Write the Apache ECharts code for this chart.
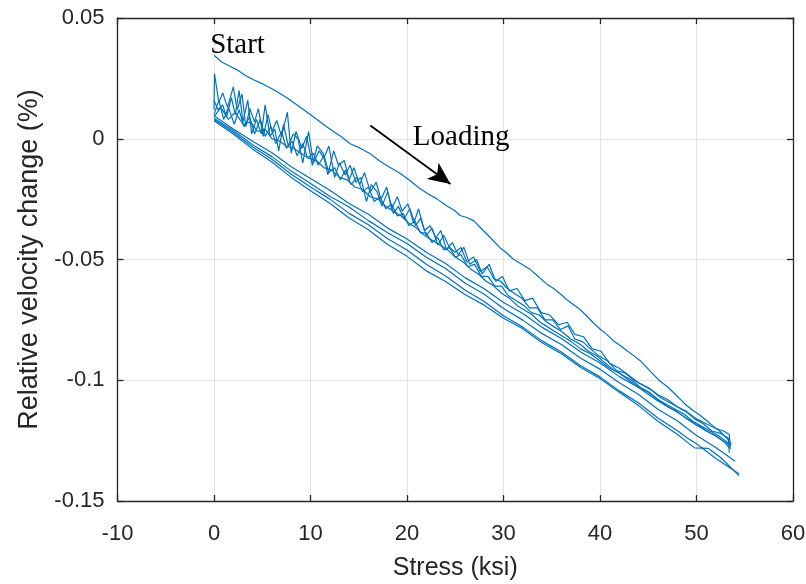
<!DOCTYPE html>
<html>
<head>
<meta charset="utf-8">
<script src="https://cdn.jsdelivr.net/npm/echarts@6/dist/echarts.min.js"></script>
<style>
  html, body { margin: 0; padding: 0; background: #fff; }
  #chart { width: 806px; height: 584px; }
</style>
</head>
<body>
<div id="chart"></div>
<script>
// Axis ranges and tick values
const xTicks = [-10, 0, 10, 20, 30, 40, 50, 60];
const yTicks = [-0.15, -0.1, -0.05, 0, 0.05];

// First loading (upper trace), [stress ksi, relative velocity change %]
const firstLoading = [
  [0, 0.0346], [0.8, 0.0318], [1.6, 0.0301], [2.5, 0.0283], [3.3, 0.0261], [4.2, 0.0242],
  [5.1, 0.0226], [6.0, 0.0207], [6.8, 0.0188], [7.7, 0.0166], [8.5, 0.0143], [9.4, 0.0117],
  [10.4, 0.0088], [11.5, 0.0055], [12.3, 0.0032], [13.2, 0.0008], [14.1, -0.0021],
  [15.1, -0.0038], [16.2, -0.0062], [17.2, -0.0093], [18.2, -0.0118], [19.2, -0.0141],
  [20.3, -0.0173], [21.3, -0.0205], [22.2, -0.0229], [23.1, -0.0249], [24.1, -0.0277],
  [24.9, -0.0296], [25.5, -0.0318], [26.2, -0.0326], [26.9, -0.0339], [27.9, -0.0380],
  [28.6, -0.0408], [29.6, -0.0450], [30.3, -0.0472], [31.0, -0.0498], [31.9, -0.0520],
  [32.7, -0.0539], [33.4, -0.0563], [34.5, -0.0602], [35.2, -0.0620], [35.9, -0.0643],
  [36.6, -0.0668], [37.2, -0.0685], [37.9, -0.0706], [38.6, -0.0733], [39.3, -0.0762],
  [40.0, -0.0788], [40.7, -0.0810], [41.4, -0.0837], [42.1, -0.0856], [42.8, -0.0878],
  [43.5, -0.0898], [44.2, -0.0920], [45.2, -0.0962], [46.2, -0.1003], [47.0, -0.1027],
  [47.9, -0.1062], [48.8, -0.1098], [49.7, -0.1127], [50.4, -0.1146], [51.1, -0.1169],
  [51.8, -0.1192], [52.4, -0.1210], [53.1, -0.1238], [53.6, -0.1262]
];

// Repeated loadings with scattered readings
const cycleNoisyA = [
  [0, 0.012], [0.05, 0.027], [0.5, 0.015], [0.9, 0.019], [1.4, 0.013], [2.0, 0.0215],
  [2.4, 0.012], [2.9, 0.0185], [3.3, 0.005], [3.7, 0.0125], [4.2, 0.007], [4.6, 0.0125],
  [5.1, 0.001], [5.6, 0.010], [6.0, 0.003], [6.5, 0.0076], [7.0, 0.001], [7.6, 0.011],
  [8.0, -0.006], [8.5, 0.003], [9.1, -0.004], [9.6, 0.001], [10.2, -0.011], [10.7, -0.003],
  [11.3, -0.006], [11.8, -0.015], [12.4, -0.005], [12.9, -0.011], [13.5, -0.009],
  [14.0, -0.017], [14.5, -0.012], [15.1, -0.019], [15.6, -0.014], [16.2, -0.022],
  [16.8, -0.018], [17.3, -0.025], [17.9, -0.020], [18.4, -0.029], [19.0, -0.024],
  [19.5, -0.030], [20.1, -0.027], [20.7, -0.035], [21.2, -0.029], [21.8, -0.038],
  [22.4, -0.036], [23.0, -0.041], [23.5, -0.038], [24.1, -0.046], [24.7, -0.043],
  [25.3, -0.048], [25.9, -0.045], [26.5, -0.052], [27.2, -0.050], [27.8, -0.056],
  [28.5, -0.052], [29.2, -0.059], [29.9, -0.057], [30.6, -0.063], [31.4, -0.062],
  [32.2, -0.067], [33.0, -0.066], [33.9, -0.072], [34.8, -0.073], [35.7, -0.077],
  [36.6, -0.076], [37.4, -0.081], [38.3, -0.082], [39.2, -0.087], [40.1, -0.088],
  [41.0, -0.093], [42.0, -0.095], [43.0, -0.098], [44.0, -0.101], [45.0, -0.103],
  [46.0, -0.106], [47.0, -0.108], [48.0, -0.111], [49.0, -0.113], [50.0, -0.116],
  [51.0, -0.118], [52.0, -0.120], [52.8, -0.121], [53.4, -0.1225], [53.5, -0.1285]
];

const cycleNoisyB = [
  [0, 0.016], [0.4, 0.012], [0.9, 0.014], [1.3, 0.009], [1.8, 0.017], [2.2, 0.010],
  [2.6, 0.020], [3.0, 0.007], [3.5, 0.016], [3.9, 0.002], [4.4, 0.008], [4.9, 0.002],
  [5.3, 0.014], [5.8, 0.001], [6.3, 0.004], [6.7, -0.005], [7.2, 0.006], [7.7, -0.003],
  [8.2, 0.002], [8.7, 0.000], [9.2, -0.010], [9.8, 0.003], [10.3, -0.010], [10.9, -0.005],
  [11.4, -0.008], [11.9, -0.003], [12.5, -0.016], [13.0, -0.010], [13.6, -0.015],
  [14.1, -0.011], [14.7, -0.018], [15.2, -0.016], [15.8, -0.026], [16.3, -0.019],
  [16.9, -0.022], [17.4, -0.028], [18.0, -0.022], [18.6, -0.031], [19.1, -0.028],
  [19.7, -0.033], [20.3, -0.029], [20.9, -0.036], [21.4, -0.033], [22.0, -0.040],
  [22.6, -0.037], [23.2, -0.044], [23.8, -0.040], [24.4, -0.045], [25.0, -0.047],
  [25.6, -0.045], [26.2, -0.051], [26.9, -0.049], [27.6, -0.055], [28.3, -0.053],
  [29.0, -0.058], [29.7, -0.059], [30.4, -0.062], [31.1, -0.064], [31.9, -0.066],
  [32.7, -0.070], [33.5, -0.070], [34.3, -0.075], [35.1, -0.075], [35.9, -0.079],
  [36.7, -0.0775], [37.4, -0.083], [38.2, -0.084], [39.0, -0.087], [39.9, -0.090],
  [40.8, -0.092], [41.7, -0.096], [42.6, -0.097], [43.5, -0.100], [44.4, -0.102],
  [45.3, -0.104], [46.2, -0.107], [47.1, -0.109], [48.0, -0.111], [48.9, -0.113],
  [49.8, -0.116], [50.7, -0.118], [51.6, -0.121], [52.5, -0.122], [53.3, -0.124],
  [53.4, -0.130]
];

const cycleNoisyC = [
  [0, 0.010], [0.5, 0.016], [1.0, 0.008], [1.5, 0.013], [2.1, 0.006], [2.6, 0.012],
  [3.1, 0.005], [3.7, 0.009], [4.2, 0.002], [4.8, 0.008], [5.3, 0.001], [5.9, 0.005],
  [6.4, -0.002], [7.0, 0.003], [7.5, -0.004], [8.1, -0.001], [8.6, -0.007], [9.2, -0.002],
  [9.7, -0.008], [10.3, -0.006], [10.8, -0.011], [11.4, -0.007], [11.9, -0.014],
  [12.5, -0.012], [13.1, -0.017], [13.6, -0.013], [14.2, -0.019], [14.8, -0.016],
  [15.4, -0.022], [16.0, -0.020], [16.6, -0.026], [17.2, -0.024], [17.8, -0.029],
  [18.4, -0.027], [19.0, -0.032], [19.6, -0.031], [20.2, -0.036], [20.8, -0.034],
  [21.4, -0.039], [22.0, -0.039], [22.6, -0.043], [23.2, -0.041], [23.8, -0.046],
  [24.4, -0.045], [25.0, -0.049], [25.6, -0.048], [26.3, -0.053], [27.0, -0.052],
  [27.7, -0.057], [28.4, -0.057], [29.1, -0.061], [29.8, -0.061], [30.5, -0.065],
  [31.3, -0.067], [32.1, -0.069], [32.9, -0.072], [33.7, -0.073], [34.5, -0.076],
  [35.3, -0.078], [36.1, -0.080], [37.0, -0.083], [37.9, -0.085], [38.8, -0.088],
  [39.7, -0.090], [40.6, -0.093], [41.5, -0.096], [42.4, -0.098], [43.3, -0.100],
  [44.2, -0.103], [45.1, -0.105], [46.0, -0.108], [46.9, -0.110], [47.8, -0.112],
  [48.7, -0.114], [49.6, -0.117], [50.5, -0.119], [51.4, -0.121], [52.3, -0.123],
  [53.0, -0.125], [53.6, -0.127]
];

const cycleNoisyD = [
  [0, 0.009], [0.7, 0.013], [1.5, 0.008], [2.2, 0.011], [3.0, 0.006], [3.8, 0.007],
  [4.5, 0.003], [5.3, 0.004], [6.0, 0.000], [6.8, -0.001], [7.5, -0.003], [8.3, -0.004],
  [9.0, -0.006], [9.8, -0.008], [10.6, -0.009], [11.4, -0.012], [12.2, -0.013],
  [13.0, -0.016], [13.8, -0.017], [14.6, -0.020], [15.4, -0.021], [16.2, -0.024],
  [17.0, -0.025], [17.8, -0.028], [18.6, -0.030], [19.4, -0.032], [20.2, -0.035],
  [21.0, -0.037], [21.8, -0.040], [22.6, -0.042], [23.4, -0.044], [24.2, -0.046],
  [25.0, -0.049], [25.8, -0.051], [26.6, -0.054], [27.4, -0.056], [28.2, -0.059],
  [29.0, -0.061], [29.8, -0.064], [30.6, -0.066], [31.4, -0.069], [32.2, -0.071],
  [33.0, -0.073], [33.8, -0.076], [34.6, -0.078], [35.4, -0.080], [36.2, -0.082],
  [37.0, -0.084], [38.0, -0.087], [39.0, -0.089], [40.0, -0.092], [41.0, -0.095],
  [42.0, -0.097], [43.0, -0.100], [44.0, -0.103], [45.0, -0.105], [46.0, -0.108],
  [47.0, -0.111], [48.0, -0.113], [49.0, -0.116], [50.0, -0.118], [51.0, -0.121],
  [52.0, -0.123], [53.0, -0.126], [53.4, -0.128]
];

// Repeated loadings with steadier readings
const cycleSmoothA = [
  [0, 0.0095], [2, 0.0040], [4, -0.0010], [6, -0.0058], [8, -0.0116], [10, -0.0165],
  [12, -0.0213], [14, -0.0268], [16, -0.0313], [18, -0.0370], [20, -0.0415], [22, -0.0470],
  [24, -0.0517], [26, -0.0575], [28, -0.0621], [30, -0.0678], [32, -0.0724], [34, -0.0781],
  [36, -0.0827], [38, -0.0883], [40, -0.0929], [42, -0.0985], [44, -0.1030], [46, -0.1086],
  [48, -0.1131], [50, -0.1186], [52, -0.1231], [53.5, -0.1270]
];

const cycleSmoothB = [
  [0, 0.0085], [2, 0.0034], [4, -0.0025], [6, -0.0074], [8, -0.0134], [10, -0.0185],
  [12, -0.0238], [14, -0.0283], [16, -0.0339], [18, -0.0389], [20, -0.0434], [22, -0.0491],
  [24, -0.0537], [26, -0.0597], [28, -0.0644], [30, -0.0703], [32, -0.0751], [34, -0.0807],
  [36, -0.0852], [38, -0.0909], [40, -0.0954], [42, -0.1010], [44, -0.1059], [46, -0.1120],
  [48, -0.1168], [50, -0.1229], [52, -0.1278], [54, -0.1335]
];

const cycleSmoothC = [
  [0, 0.0080], [2, 0.0027], [4, -0.0034], [6, -0.0085], [8, -0.0147], [10, -0.0200],
  [12, -0.0250], [14, -0.0309], [16, -0.0356], [18, -0.0414], [20, -0.0461], [22, -0.0520],
  [24, -0.0568], [26, -0.0626], [28, -0.0674], [30, -0.0733], [32, -0.0780], [34, -0.0837],
  [36, -0.0883], [38, -0.0940], [40, -0.0986], [42, -0.1044], [44, -0.1094], [46, -0.1156],
  [48, -0.1208], [49, -0.1238], [50, -0.1263], [52, -0.1324], [54.4, -0.1387]
];

const cycleSmoothD = [
  [0, 0.0075], [2, 0.0020], [4, -0.0043], [6, -0.0096], [8, -0.0160], [10, -0.0215],
  [12, -0.0267], [14, -0.0328], [16, -0.0377], [18, -0.0438], [20, -0.0487], [22, -0.0547],
  [24, -0.0591], [26, -0.0645], [28, -0.0689], [30, -0.0743], [32, -0.0787], [34, -0.0845],
  [36, -0.0890], [38, -0.0947], [40, -0.0993], [42, -0.1050], [44, -0.1105], [46, -0.1170],
  [48, -0.1224], [49.8, -0.1280], [51.2, -0.1282], [52.5, -0.1320], [54.4, -0.1395]
];

// Loading direction arrow, from tail to head
const arrowTail = [16.2, 0.0055];
const arrowHead = [24.5, -0.0187];

// Annotations: [text, stress, velocity change]
const annotations = [
  ['Start', -0.4, 0.0388],
  ['Loading', 20.6, 0.0005]
];

const traces = [
  firstLoading, cycleNoisyA, cycleNoisyB, cycleNoisyC, cycleNoisyD,
  cycleSmoothA, cycleSmoothB, cycleSmoothC, cycleSmoothD
];

const LINE_BLUE = '#0072BD';
const AXIS_DARK = '#262626';
const SANS = '"Liberation Sans", Arial, Helvetica, sans-serif';
const SERIF = '"Liberation Serif", "Times New Roman", serif';

function fmtTick(v) {
  return String(parseFloat(Number(v).toFixed(4)));
}

const chart = echarts.init(document.getElementById('chart'), null, { renderer: 'canvas' });

const series = traces.map(function (d, i) {
  const s = {
    type: 'line',
    data: d,
    showSymbol: false,
    symbol: 'none',
    silent: true,
    animation: false,
    lineStyle: { color: LINE_BLUE, width: 1.2 },
    z: 3
  };
  if (i === 0) {
    s.markLine = {
      silent: true,
      animation: false,
      symbol: ['none', 'arrow'],
      symbolSize: [15, 22],
      label: { show: false },
      lineStyle: { color: '#000', width: 1.8, type: 'solid' },
      data: [[{ coord: arrowTail }, { coord: arrowHead }]]
    };
  }
  return s;
});

const option = {
  backgroundColor: '#ffffff',
  animation: false,
  grid: {
    left: 117.5, right: 13, top: 18, bottom: 83,
    containLabel: false,
    outerBoundsMode: 'none'
  },
  xAxis: [
    {
      type: 'value',
      min: xTicks[0], max: xTicks[xTicks.length - 1], interval: 10,
      position: 'bottom',
      name: 'Stress (ksi)',
      nameLocation: 'middle',
      nameGap: 55,
      nameTextStyle: { fontFamily: SANS, fontSize: 25, color: AXIS_DARK },
      axisLine: { show: true, onZero: false, lineStyle: { color: AXIS_DARK, width: 1.3 } },
      axisTick: { show: true, inside: true, length: 6, lineStyle: { color: AXIS_DARK, width: 1.3 } },
      axisLabel: { fontFamily: SANS, fontSize: 22, color: AXIS_DARK, margin: 22, formatter: fmtTick },
      splitLine: { show: true, lineStyle: { color: '#e3e3e3', width: 1 } }
    },
    {
      type: 'value',
      min: xTicks[0], max: xTicks[xTicks.length - 1], interval: 10,
      position: 'top',
      axisLine: { show: true, onZero: false, lineStyle: { color: AXIS_DARK, width: 1.3 } },
      axisTick: { show: true, inside: true, length: 6, lineStyle: { color: AXIS_DARK, width: 1.3 } },
      axisLabel: { show: false },
      splitLine: { show: false }
    }
  ],
  yAxis: [
    {
      type: 'value',
      min: yTicks[0], max: yTicks[yTicks.length - 1], interval: 0.05,
      position: 'left',
      name: 'Relative velocity change (%)',
      nameLocation: 'middle',
      nameGap: 74,
      nameRotate: 90,
      nameTextStyle: { fontFamily: SANS, fontSize: 27, color: AXIS_DARK },
      axisLine: { show: true, onZero: false, lineStyle: { color: AXIS_DARK, width: 1.3 } },
      axisTick: { show: true, inside: true, length: 6, lineStyle: { color: AXIS_DARK, width: 1.3 } },
      axisLabel: { fontFamily: SANS, fontSize: 22, color: AXIS_DARK, margin: 13, formatter: fmtTick },
      splitLine: { show: true, lineStyle: { color: '#e3e3e3', width: 1 } }
    },
    {
      type: 'value',
      min: yTicks[0], max: yTicks[yTicks.length - 1], interval: 0.05,
      position: 'right',
      axisLine: { show: true, onZero: false, lineStyle: { color: AXIS_DARK, width: 1.3 } },
      axisTick: { show: true, inside: true, length: 6, lineStyle: { color: AXIS_DARK, width: 1.3 } },
      axisLabel: { show: false },
      splitLine: { show: false }
    }
  ],
  series: series
};

chart.setOption(option);

// Place the text annotations at their data positions
const graphics = annotations.map(function (a) {
  const p = chart.convertToPixel({ xAxisIndex: 0, yAxisIndex: 0 }, [a[1], a[2]]);
  return {
    type: 'text',
    x: p[0],
    y: p[1],
    z: 10,
    silent: true,
    style: {
      text: a[0],
      fontFamily: SERIF,
      fontSize: 29,
      fill: '#000',
      align: 'left',
      verticalAlign: 'middle'
    }
  };
});
chart.setOption({ graphic: graphics });
</script>
</body>
</html>
